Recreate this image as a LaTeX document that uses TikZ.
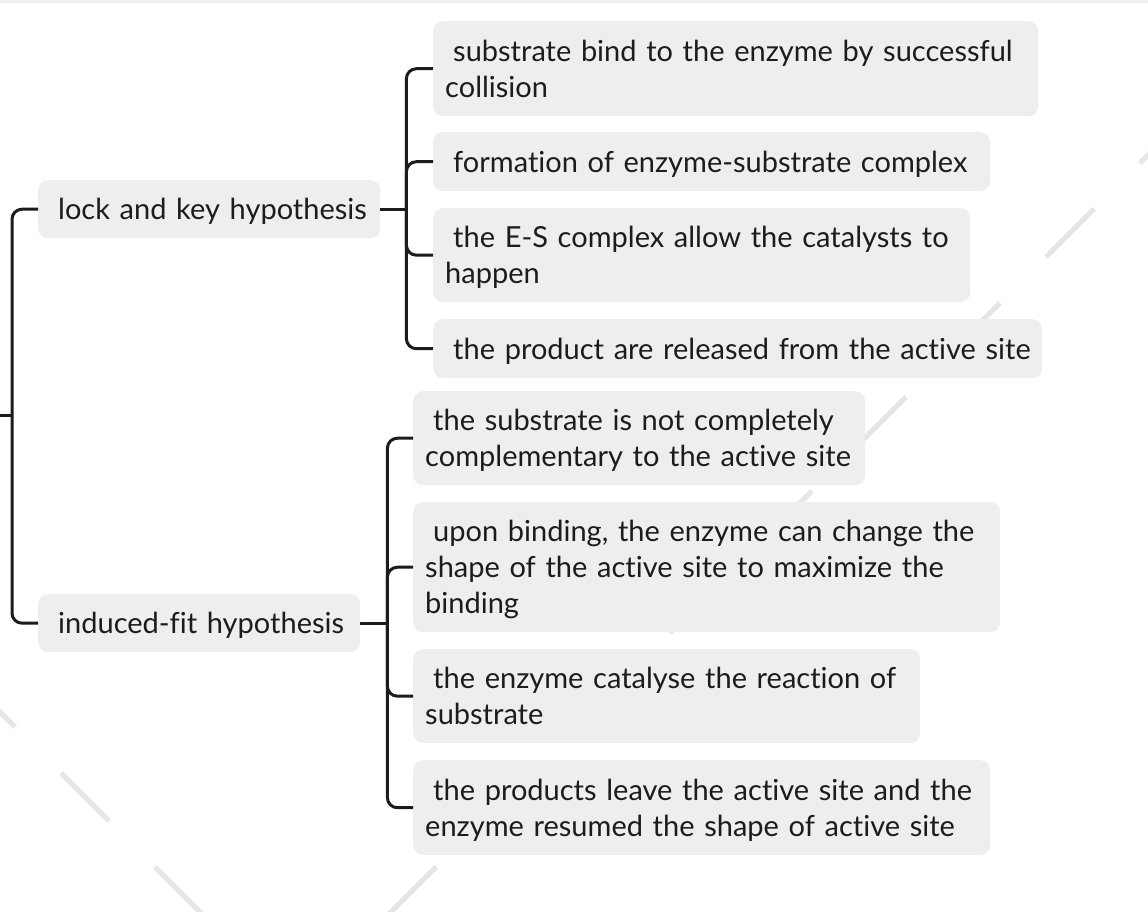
\documentclass[tikz,border=0pt]{standalone}
\usepackage{fontspec}
\setmainfont{Lato}[Ligatures=NoCommon]
\usetikzlibrary{calc}
\definecolor{boxfill}{HTML}{EEEEEE}
\definecolor{ink}{HTML}{1C1C1C}
\definecolor{wmark}{HTML}{E6E6E6}
\definecolor{topband}{HTML}{EEEEEE}
\newcommand\tstrut{\rule[-7.5pt]{0pt}{36pt}}
\newcommand\firstline[1]{\noindent\tstrut\hspace*{8pt}\mbox{#1}}
\newcommand\nextline[1]{\tstrut\mbox{#1}}
\begin{document}
\begin{tikzpicture}[x=1pt,y=-1pt,
  topic/.style={fill=boxfill, rounded corners=10pt, anchor=north west,
    inner xsep=12pt, inner ysep=0pt, align=left, text=ink,
    font=\fontsize{29}{36}\selectfont},
  conn/.style={draw=ink, line width=3pt, rounded corners=10pt},
  wm/.style={draw=wmark, line width=5pt, dash pattern=on 67.9pt off 65pt}]

% canvas and top band
\fill[white] (0,0) rectangle (1148,912);
\useasboundingbox (0,0) rectangle (1148,912);
\fill[topband] (0,0) rectangle (1148,3);

% watermark strokes
\begin{scope}
\clip (0,0) rectangle (1148,912);
\draw[wm] (1188,115) -- (300,1003);
\draw[wm] (203,915) -- (-160,552);
\end{scope}

% nodes
\node[topic, text width=318pt, minimum height=58pt] (lock) at (38,180)
  {\firstline{lock and key hypothesis}};
\node[topic, text width=298pt, minimum height=58pt] (ind) at (38,594)
  {\firstline{induced-fit hypothesis}};

\node[topic, text width=581pt, minimum height=95pt] (a1) at (433,21)
  {\firstline{substrate bind to the enzyme by successful}\\\nextline{collision}};
\node[topic, text width=533pt, minimum height=59pt] (a2) at (433,132)
  {\firstline{formation of enzyme-substrate complex}};
\node[topic, text width=513pt, minimum height=94pt] (a3) at (433,208)
  {\firstline{the E-S complex allow the catalysts to}\\\nextline{happen}};
\node[topic, text width=585pt, minimum height=59pt] (a4) at (433,319)
  {\firstline{the product are released from the active site}};

\node[topic, text width=428pt, minimum height=94pt] (b1) at (413,391)
  {\firstline{the substrate is not completely}\\\nextline{complementary to the active site}};
\node[topic, text width=563pt, minimum height=130pt] (b2) at (413,502)
  {\firstline{upon binding, the enzyme can change the}\\\nextline{shape of the active site to maximize the}\\\nextline{binding}};
\node[topic, text width=483pt, minimum height=94pt] (b3) at (413,649)
  {\firstline{the enzyme catalyse the reaction of}\\\nextline{substrate}};
\node[topic, text width=553pt, minimum height=95pt] (b4) at (413,760)
  {\firstline{the products leave the active site and the}\\\nextline{enzyme resumed the shape of active site}};

% connectors
\coordinate (rootin) at (0,415);
\coordinate (rootj) at (12,415);
\coordinate (lockj) at ($(lock.east)+(26,0)$);
\coordinate (indj) at ($(ind.east)+(27,0)$);

\draw[conn] (rootin) -- (rootj);
\draw[conn] (rootj) |- (lock.west);
\draw[conn] (rootj) |- (ind.west);

\draw[conn] (lock.east) -- (lockj);
\foreach \c in {a1,a2,a3,a4} \draw[conn] (lockj) |- (\c.west);

\draw[conn] (ind.east) -- (indj);
\foreach \c in {b1,b2,b3,b4} \draw[conn] (indj) |- (\c.west);
\end{tikzpicture}
\end{document}
